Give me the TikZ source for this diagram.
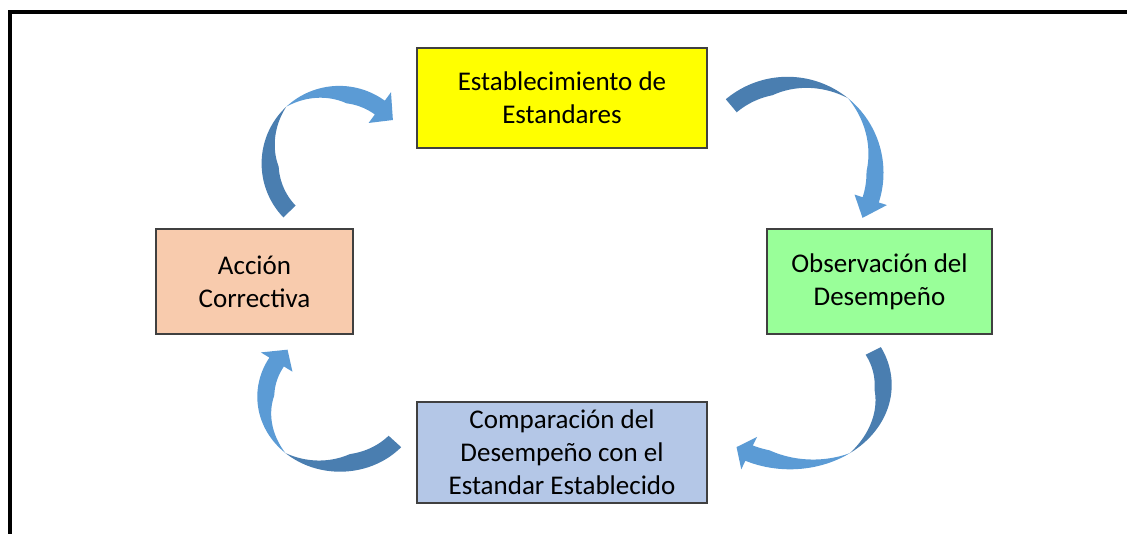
\documentclass[tikz,border=0pt]{standalone}
\usepackage{fontspec}
\setmainfont{Carlito}

\definecolor{arrowdark}{HTML}{4A7EB0}
\definecolor{arrowlight}{HTML}{5B9BD5}
\definecolor{estandar}{HTML}{FFFF00}
\definecolor{observa}{HTML}{99FF99}
\definecolor{compara}{HTML}{B4C7E7}
\definecolor{accion}{HTML}{F8CBAD}

% centre, x radius, y radius, width, tail angle, seam angle, head angle, tip angle, head half width
\newcommand{\curvedarrow}[9]{%
\begin{scope}[shift={#1}]
\fill[arrowdark] plot[domain=#5:#6, samples=50] (\x:#2 and #3)
  -- plot[domain=#6:#5, samples=50] (\x:{#2-#4*min(1,abs(\x-(#6))/50)} and {#3-#4*min(1,abs(\x-(#6))/50)}) -- cycle;
\fill[arrowlight] plot[domain=#6:#7, samples=50] (\x:#2 and #3)
  -- (#7:{#2-#4/2+#9} and {#3-#4/2+#9}) -- (#8:{#2-#4/2} and {#3-#4/2}) -- (#7:{#2-#4/2-#9} and {#3-#4/2-#9})
  -- plot[domain=#7:#6, samples=50] (\x:{#2-#4*min(1,abs(\x-(#6))/50)} and {#3-#4*min(1,abs(\x-(#6))/50)}) -- cycle;
\end{scope}}

\begin{document}
\begin{tikzpicture}[x=1pt, y=1pt,
  box/.style={draw=black!75, line width=1.2pt, align=center, inner sep=0pt,
    font=\fontsize{27}{33}\selectfont}]
\useasboundingbox (0,0) rectangle (1127,533);
\clip (0,0) rectangle (1127,533);
\draw[line width=4pt] (9.5,-10) -- (9.5,520.5) -- (1140,520.5);

\node[box, fill=estandar, minimum width=290pt, minimum height=100pt] (est) at (562,435) {Establecimiento de\\Estandares};
\node[box, fill=observa, minimum width=225pt, minimum height=105pt] (obs) at (879.5,251.5) {Observación del\\Desempeño};
\node[box, fill=compara, minimum width=290pt, minimum height=101pt] (comp) at (562,80.5) {Comparación del\\Desempeño con el\\Estandar Establecido};
\node[box, fill=accion, minimum width=197pt, minimum height=105pt] (acc) at (254.5,251.5) {Acción\\Correctiva};

\curvedarrow{(339.2,369.5)}{77.6}{77.6}{17}{224}{133}{54}{39}{19}
\curvedarrow{(787.5,360.2)}{96}{96}{17}{130}{51}{-18}{-31}{17}
\curvedarrow{(790,148)}{101.7}{84.3}{17}{26.7}{-54}{-116}{-125}{18}
\curvedarrow{(340,136.3)}{82.7}{75}{17}{317.7}{228.7}{148.6}{135}{18.5}
\end{tikzpicture}
\end{document}
